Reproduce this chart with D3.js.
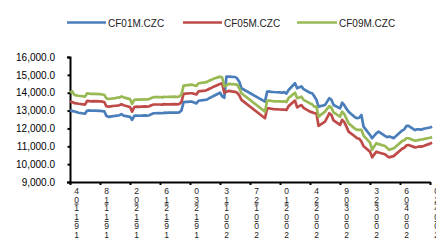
<!DOCTYPE html>
<html><head><meta charset="utf-8">
<script src="https://cdn.jsdelivr.net/npm/d3@7/dist/d3.min.js"></script>
<style>
html,body{margin:0;padding:0;background:#fff;}
svg{display:block;font-family:"Liberation Sans",Arial,sans-serif;}
</style></head>
<body><svg id="c" width="436" height="240"></svg>
<script>
const seriesNames = ["CF01M.CZC","CF05M.CZC","CF09M.CZC"];
const dates = ["2019-11-04","2019-11-05","2019-11-06","2019-11-07","2019-11-08","2019-11-11","2019-11-12","2019-11-13","2019-11-14","2019-11-15",
"2019-11-18","2019-11-19","2019-11-20","2019-11-21","2019-11-22","2019-11-25","2019-11-26","2019-11-27","2019-11-28","2019-11-29",
"2019-12-02","2019-12-03","2019-12-04","2019-12-05","2019-12-06","2019-12-09","2019-12-10","2019-12-11","2019-12-12","2019-12-13",
"2019-12-16","2019-12-17","2019-12-18","2019-12-19","2019-12-20","2019-12-23","2019-12-24","2019-12-25","2019-12-26","2019-12-27",
"2019-12-30","2019-12-31","2020-01-02","2020-01-03","2020-01-06","2020-01-07","2020-01-08","2020-01-09","2020-01-10","2020-01-13",
"2020-01-14","2020-01-15","2020-01-16","2020-01-17","2020-01-20","2020-01-21","2020-01-22","2020-01-23","2020-02-03","2020-02-04",
"2020-02-05","2020-02-06","2020-02-07","2020-02-10","2020-02-11","2020-02-12","2020-02-13","2020-02-14","2020-02-17","2020-02-18",
"2020-02-19","2020-02-20","2020-02-21","2020-02-24","2020-02-25","2020-02-26","2020-02-27","2020-02-28","2020-03-02","2020-03-03",
"2020-03-04","2020-03-05","2020-03-06","2020-03-09","2020-03-10","2020-03-11","2020-03-12","2020-03-13","2020-03-16","2020-03-17",
"2020-03-18","2020-03-19","2020-03-20","2020-03-23","2020-03-24","2020-03-25","2020-03-26","2020-03-27","2020-03-30","2020-03-31",
"2020-04-01","2020-04-02","2020-04-03","2020-04-07","2020-04-08","2020-04-09","2020-04-10","2020-04-13","2020-04-14","2020-04-15",
"2020-04-16","2020-04-17","2020-04-20","2020-04-21"];
const cf01 = [13000,12980,12950,12920,12880,12820,13000,13010,12990,13000,
12980,12970,12960,12700,12650,12700,12720,12740,12800,12720,
12650,12480,12700,12720,12710,12730,12720,12740,12800,12850,
12860,12850,12880,12870,12880,12890,12880,12900,13000,13470,
13500,13500,13400,13550,13600,13620,13700,13750,13820,14000,
13800,13720,14900,14900,14880,14800,14620,14250,13500,14060,
14070,14050,14040,14020,14000,14030,13950,14150,14530,14250,
14300,14350,14200,14000,13970,13800,13600,13220,13310,13500,
13690,13600,13310,13120,13440,13300,13100,12940,12620,12570,
12600,12750,12100,11630,11450,11600,11730,11820,11580,11510,
11550,11500,11450,11880,11950,12140,12140,11910,11950,11950,
11930,11980,12050,12100];
const cf05 = [13500,13480,13420,13400,13380,13330,13540,13530,13520,13530,
13510,13500,13480,13240,13220,13270,13280,13300,13350,13300,
13200,12940,13200,13220,13210,13230,13220,13240,13300,13340,
13340,13330,13360,13350,13350,13360,13350,13370,13480,13930,
13970,13970,13900,14080,14120,14150,14220,14270,14340,14490,
14530,14000,14050,14100,14050,14000,13850,13600,12570,13120,
13120,13100,13080,13060,13050,13060,13030,13250,13560,13180,
13250,13310,13150,12940,12900,12850,12850,12140,12380,12600,
12850,12750,12450,12200,12480,12350,12100,11820,11550,11450,
11420,11260,11000,10700,10380,10550,10700,10650,10550,10450,
10380,10420,10450,10860,10920,11050,11070,10940,10960,10990,
10980,11020,11150,11200];
const cf09 = [14000,14080,13880,13850,13830,13780,13970,13950,13930,13940,
13920,13900,13880,13680,13650,13700,13720,13730,13790,13740,
13640,13370,13600,13620,13610,13630,13620,13650,13700,13750,
13760,13740,13770,13760,13770,13780,13760,13790,13900,14400,
14440,14450,14380,14530,14580,14610,14680,14720,14780,14900,
14850,14350,14420,14490,14470,14450,14250,13970,12940,13560,
13560,13540,13520,13510,13500,13520,13480,13700,14000,13690,
13730,13780,13600,13400,13350,13220,13220,12660,12940,13100,
13250,13150,12900,12660,12940,12800,12550,12290,11980,11920,
11920,11920,11600,11200,10800,11000,11170,11120,11020,10900,
10800,10850,10880,11290,11340,11450,11450,11310,11330,11360,
11380,11400,11480,11510];
const yTicks = [9000,10000,11000,12000,13000,14000,15000,16000];
const tickLabels = ["2019-11-04","2019-11-18","2019-12-02","2019-12-16","2019-12-30","2020-01-13","2020-01-27","2020-02-10","2020-02-24","2020-03-09","2020-03-23","2020-04-06","2020-04-20"];
const colors = ["#4A7EBB","#BE4B48","#98B954"];

const parse = d3.timeParse("%Y-%m-%d");
const svg = d3.select("#c");
const x = d3.scaleTime().domain([parse(tickLabels[0]), parse(tickLabels[tickLabels.length-1])]).range([70,430]);
const y = d3.scaleLinear().domain([9000,16000]).range([182,57]);

// y axis
const ya = svg.append("g").attr("transform","translate(70,0)")
  .call(d3.axisLeft(y).tickValues(yTicks).tickFormat(d3.format(",.1f")).tickSize(3).tickPadding(12));
ya.select(".domain").attr("stroke","#000").attr("stroke-width",2);
ya.selectAll(".tick line").attr("stroke","#000").attr("stroke-width",2).attr("x2",-2.5);
ya.selectAll(".tick text").attr("font-size",10).attr("fill","#000").attr("font-family","Liberation Sans, Arial, sans-serif");

// x axis
const xa = svg.append("g").attr("transform","translate(0,182)")
  .call(d3.axisBottom(x).tickValues(tickLabels.map(parse)).tickFormat("").tickSize(3).tickSizeOuter(0));
xa.select(".domain").attr("stroke","#000").attr("stroke-width",2);
xa.selectAll(".tick line").attr("stroke","#000").attr("stroke-width",2);

// stacked (upright vertical) tick labels; only the rows that fit inside the frame
const lg = svg.append("g").attr("fill","#222");
const pitch = 8.7, maxRows = 6;
tickLabels.forEach(t => {
  const chars = t.split("").reverse();
  const cx = x(parse(t)) + 6.5;
  let row = 0;
  const tx = lg.append("text").attr("text-anchor","middle").attr("font-size",8.5);
  chars.forEach(ch => {
    if (row >= maxRows) return;
    if (ch === "-") {
      lg.append("line").attr("x1",cx-2).attr("x2",cx+2)
        .attr("y1",191 + (row-0.5)*pitch).attr("y2",191 + (row-0.5)*pitch)
        .attr("stroke","#222").attr("stroke-width",0.9);
    } else {
      tx.append("tspan").attr("x",cx).attr("y",194 + row*pitch).text(ch);
      row++;
    }
  });
});

// lines
const line = d3.line().x((d,i)=>x(parse(dates[i]))).y(d=>y(d));
[cf01,cf05,cf09].forEach((s,k) => {
  svg.append("path").datum(s).attr("d",line).attr("fill","none")
    .attr("stroke",colors[k]).attr("stroke-width",2.7).attr("stroke-linejoin","round");
});

// legend
const legX = [[67,108],[183,224],[297,339]];
seriesNames.forEach((n,k) => {
  svg.append("line").attr("x1",legX[k][0]).attr("x2",legX[k][1]-2).attr("y1",22.5).attr("y2",22.5)
    .attr("stroke",colors[k]).attr("stroke-width",2.7);
  svg.append("text").attr("x",legX[k][1]).attr("y",26.5).attr("font-size",10).attr("fill","#222").text(n);
});
</script></body></html>
